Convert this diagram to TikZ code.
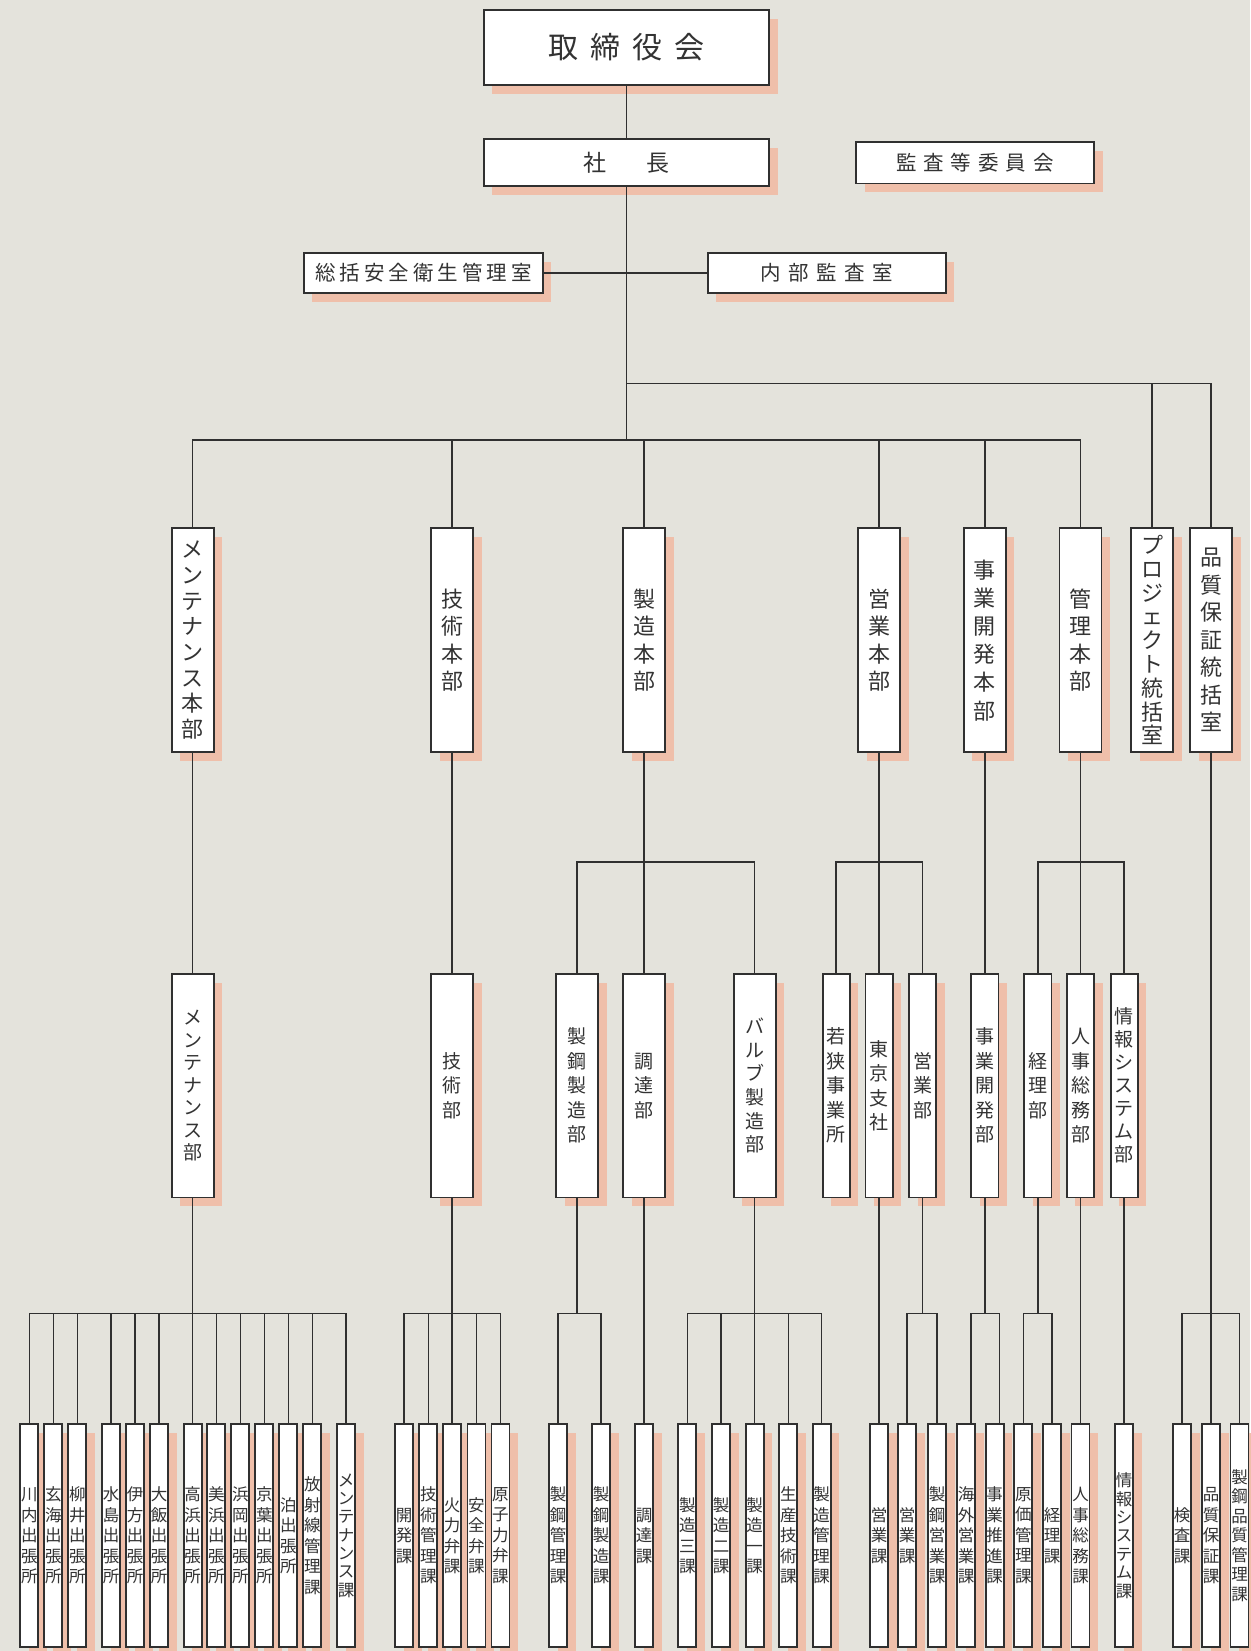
\documentclass[tikz,border=0pt]{standalone}
\usepackage{fontspec}
\setmainfont{Noto Sans CJK JP}
\usetikzlibrary{shadows}
\definecolor{bgc}{HTML}{E4E3DC}
\definecolor{shc}{HTML}{EFBFAA}
\definecolor{lnc}{HTML}{303030}
\definecolor{txc}{HTML}{333333}
\makeatletter
\def\vt#1{\vt@a#1\relax}
\def\vt@a#1{#1\vt@b}
\def\vt@b#1{\ifx#1\relax\else\\#1\expandafter\vt@b\fi}
\makeatother
\begin{document}
\begin{tikzpicture}[x=1pt,y=-1pt,
 box/.style={draw=lnc, line width=1.8pt, fill=white, inner sep=0pt, text=txc, align=center,
   drop shadow={shadow xshift=8.5pt, shadow yshift=-9pt, fill=shc, opacity=1}},
 la/.style={box, minimum width=42pt, minimum height=224pt, font=\fontsize{22}{27.5}\selectfont},
 lb/.style={box, minimum width=42pt, minimum height=223.5pt, font=\fontsize{19}{24.5}\selectfont},
 lbn/.style={lb, minimum width=27.2pt},
 lc/.style={box, minimum width=18pt, minimum height=223pt, font=\fontsize{16.5}{20.5}\selectfont},
 conn/.style={draw=lnc, line width=1.5pt}
]
\fill[bgc] (0,0) rectangle (1250,1651);
\useasboundingbox (0,0) rectangle (1250,1651);

\coordinate (busA) at (0,383.3);
\coordinate (busB) at (0,440.2);
\coordinate (busC) at (0,862);
\coordinate (busD) at (0,1313.7);

% top
\node[box, minimum width=285.5pt, minimum height=75pt, font=\fontsize{30}{36}\selectfont] (board) at (626.4,47.3) {取\hspace{12pt}締\hspace{12pt}役\hspace{12pt}会};
\node[box, minimum width=285.5pt, minimum height=46.6pt, font=\fontsize{23}{28}\selectfont] (pres) at (626.4,162.5) {社\hspace{40pt}長};
\node[box, minimum width=238pt, minimum height=41.5pt, font=\fontsize{20.5}{25}\selectfont] (kansa) at (975,162.7) {監\hspace{7pt}査\hspace{7pt}等\hspace{7pt}委\hspace{7pt}員\hspace{7pt}会};
\node[box, minimum width=238.8pt, minimum height=40.5pt, font=\fontsize{20.5}{25}\selectfont] (safety) at (423.3,272.85) {総\hspace{4pt}括\hspace{4pt}安\hspace{4pt}全\hspace{4pt}衛\hspace{4pt}生\hspace{4pt}管\hspace{4pt}理\hspace{4pt}室};
\node[box, minimum width=237.8pt, minimum height=40.5pt, font=\fontsize{20.5}{25}\selectfont] (audit) at (826.8,272.85) {内\hspace{7.5pt}部\hspace{7.5pt}監\hspace{7.5pt}査\hspace{7.5pt}室};

% level 1
\node[la, font=\fontsize{22}{25.7}\selectfont] (mh) at (192.7,640.15) {\vt{メンテナンス本部}};
\node[la] (gh) at (452,640.15) {\vt{技術本部}};
\node[la] (sh) at (644,640.15) {\vt{製造本部}};
\node[la] (eh) at (879,640.15) {\vt{営業本部}};
\node[la, font=\fontsize{22}{28.2}\selectfont] (jh) at (984.8,640.15) {\vt{事業開発本部}};
\node[la] (kh) at (1080.5,640.15) {\vt{管理本部}};
\node[la, font=\fontsize{22}{23.8}\selectfont] (ph) at (1152,640.15) {\vt{プロジェクト統括室}};
\node[la] (qh) at (1211,640.15) {\vt{品質保証統括室}};

% level 2
\node[lb, font=\fontsize{19}{22.5}\selectfont] (m2) at (192.7,1085.65) {\vt{メンテナンス部}};
\node[lb] (g2) at (452,1085.65) {\vt{技術部}};
\node[lb] (s2a) at (577,1085.65) {\vt{製鋼製造部}};
\node[lb] (s2b) at (644,1085.65) {\vt{調達部}};
\node[lb, font=\fontsize{19}{23.6}\selectfont] (s2c) at (754.6,1085.65) {\vt{バルブ製造部}};
\node[lbn] (e2a) at (836.2,1085.65) {\vt{若狭事業所}};
\node[lbn] (e2b) at (879,1085.65) {\vt{東京支社}};
\node[lbn] (e2c) at (922.7,1085.65) {\vt{営業部}};
\node[lbn] (j2) at (984.8,1085.65) {\vt{事業開発部}};
\node[lbn] (k2a) at (1037.8,1085.65) {\vt{経理部}};
\node[lbn] (k2b) at (1080.5,1085.65) {\vt{人事総務部}};
\node[lbn, font=\fontsize{19}{23}\selectfont] (k2c) at (1124.2,1085.65) {\vt{情報システム部}};

% level 3
\node[lc] (t01) at (29.3,1535.65) {\vt{川内出張所}};
\node[lc] (t02) at (53.3,1535.65) {\vt{玄海出張所}};
\node[lc] (t03) at (77.3,1535.65) {\vt{柳井出張所}};
\node[lc] (t04) at (111,1535.65) {\vt{水島出張所}};
\node[lc] (t05) at (135,1535.65) {\vt{伊方出張所}};
\node[lc] (t06) at (159,1535.65) {\vt{大飯出張所}};
\node[lc] (t07) at (192.7,1535.65) {\vt{高浜出張所}};
\node[lc] (t08) at (216.3,1535.65) {\vt{美浜出張所}};
\node[lc] (t09) at (240.3,1535.65) {\vt{浜岡出張所}};
\node[lc] (t10) at (264.3,1535.65) {\vt{京葉出張所}};
\node[lc] (t11) at (288.3,1535.65) {\vt{泊出張所}};
\node[lc] (t12) at (312.3,1535.65) {\vt{放射線管理課}};
\node[lc, font=\fontsize{16.5}{18.3}\selectfont] (t13) at (346,1535.65) {\vt{メンテナンス課}};

\node[lc] (u1) at (404.2,1535.65) {\vt{開発課}};
\node[lc] (u2) at (428.3,1535.65) {\vt{技術管理課}};
\node[lc] (u3) at (452,1535.65) {\vt{火力弁課}};
\node[lc] (u4) at (476.4,1535.65) {\vt{安全弁課}};
\node[lc] (u5) at (500.4,1535.65) {\vt{原子力弁課}};

\node[lc] (v1) at (558,1535.65) {\vt{製鋼管理課}};
\node[lc] (v2) at (601,1535.65) {\vt{製鋼製造課}};
\node[lc] (w0) at (644,1535.65) {\vt{調達課}};

\node[lc] (w1) at (687.3,1535.65) {\vt{製造三課}};
\node[lc] (w2) at (721,1535.65) {\vt{製造二課}};
\node[lc] (w3) at (754.6,1535.65) {\vt{製造一課}};
\node[lc] (w4) at (788.3,1535.65) {\vt{生産技術課}};
\node[lc] (w5) at (821.7,1535.65) {\vt{製造管理課}};

\node[lc] (x1) at (879,1535.65) {\vt{営業課}};
\node[lc] (x2) at (907,1535.65) {\vt{営業課}};
\node[lc] (x3) at (937,1535.65) {\vt{製鋼営業課}};
\node[lc] (y1) at (966,1535.65) {\vt{海外営業課}};
\node[lc] (y2) at (994.7,1535.65) {\vt{事業推進課}};
\node[lc] (z1) at (1023.3,1535.65) {\vt{原価管理課}};
\node[lc] (z2) at (1052,1535.65) {\vt{経理課}};
\node[lc] (z3) at (1080.5,1535.65) {\vt{人事総務課}};
\node[lc, font=\fontsize{16.5}{18.4}\selectfont] (z4) at (1124.2,1535.65) {\vt{情報システム課}};
\node[lc] (q1) at (1182,1535.65) {\vt{検査課}};
\node[lc] (q2) at (1211,1535.65) {\vt{品質保証課}};
\node[lc, font=\fontsize{16.5}{19.5}\selectfont] (q3) at (1239.5,1535.65) {\vt{製鋼品質管理課}};

% connectors top
\draw[conn] (board.south) -- (pres.north);
\draw[conn] (pres.south) -- (pres.south |- busB);
\draw[conn] (safety.east) -- (audit.west);
\draw[conn] (pres.south |- busA) -- (qh.north |- busA) -- (qh.north);
\draw[conn] (ph.north |- busA) -- (ph.north);
\draw[conn] (mh.north) -- (mh.north |- busB) -- (kh.north |- busB) -- (kh.north);
\foreach \n in {gh,sh,eh,jh} \draw[conn] (\n.north |- busB) -- (\n.north);

% level 1 -> 2
\draw[conn] (mh.south) -- (m2.north);
\draw[conn] (gh.south) -- (g2.north);
\draw[conn] (sh.south) -- (s2b.north);
\draw[conn] (s2a.north) -- (s2a.north |- busC) -- (s2c.north |- busC) -- (s2c.north);
\draw[conn] (eh.south) -- (e2b.north);
\draw[conn] (e2a.north) -- (e2a.north |- busC) -- (e2c.north |- busC) -- (e2c.north);
\draw[conn] (jh.south) -- (j2.north);
\draw[conn] (kh.south) -- (k2b.north);
\draw[conn] (k2a.north) -- (k2a.north |- busC) -- (k2c.north |- busC) -- (k2c.north);
\draw[conn] (qh.south) -- (q2.north);

% level 2 -> 3
\draw[conn] (m2.south) -- (t07.north);
\draw[conn] (t01.north) -- (t01.north |- busD) -- (t13.north |- busD) -- (t13.north);
\foreach \n in {t02,t03,t04,t05,t06,t08,t09,t10,t11,t12} \draw[conn] (\n.north |- busD) -- (\n.north);
\draw[conn] (g2.south) -- (u3.north);
\draw[conn] (u1.north) -- (u1.north |- busD) -- (u5.north |- busD) -- (u5.north);
\foreach \n in {u2,u4} \draw[conn] (\n.north |- busD) -- (\n.north);
\draw[conn] (s2a.south) -- (s2a.south |- busD);
\draw[conn] (v1.north) -- (v1.north |- busD) -- (v2.north |- busD) -- (v2.north);
\draw[conn] (s2b.south) -- (w0.north);
\draw[conn] (s2c.south) -- (w3.north);
\draw[conn] (w1.north) -- (w1.north |- busD) -- (w5.north |- busD) -- (w5.north);
\foreach \n in {w2,w4} \draw[conn] (\n.north |- busD) -- (\n.north);
\draw[conn] (e2b.south) -- (x1.north);
\draw[conn] (e2c.south) -- (e2c.south |- busD);
\draw[conn] (x2.north) -- (x2.north |- busD) -- (x3.north |- busD) -- (x3.north);
\draw[conn] (j2.south) -- (j2.south |- busD);
\draw[conn] ([xshift=5pt]y1.north) -- ([xshift=5pt]y1.north |- busD) -- ([xshift=5pt]y2.north |- busD) -- ([xshift=5pt]y2.north);
\draw[conn] (k2a.south) -- (k2a.south |- busD);
\draw[conn] (z1.north) -- (z1.north |- busD) -- (z2.north |- busD) -- (z2.north);
\draw[conn] (k2b.south) -- (z3.north);
\draw[conn] (k2c.south) -- (z4.north);
\draw[conn] (q1.north) -- (q1.north |- busD) -- (q3.north |- busD) -- (q3.north);
\end{tikzpicture}
\end{document}
